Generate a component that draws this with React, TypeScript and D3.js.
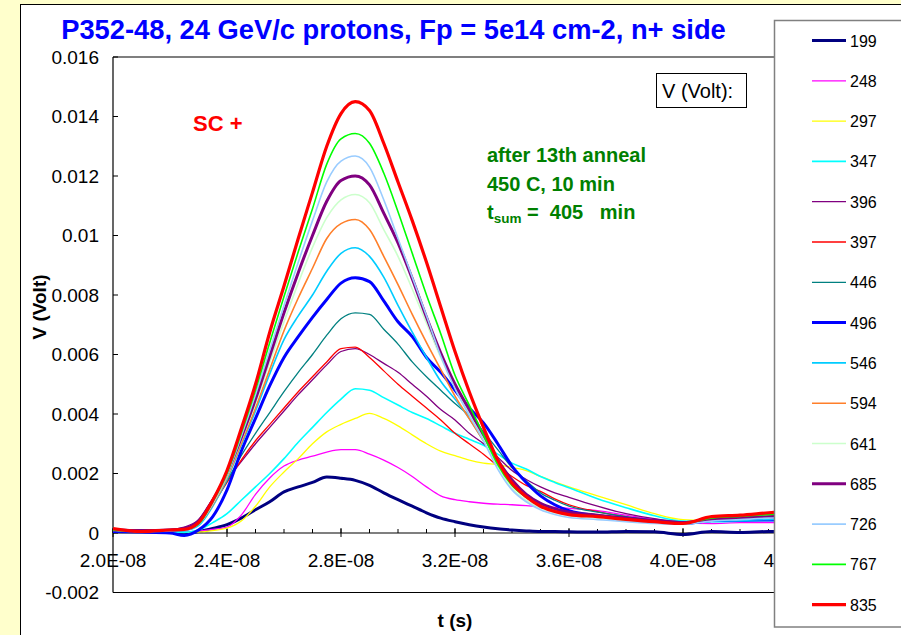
import React from "react";
import * as d3 from "d3";

// time grid in ns
const TIMES_NS = [20, 21, 22, 22.5, 23, 23.5, 24, 24.5, 25, 25.5, 26, 26.5, 27, 27.5, 28, 28.5, 29, 29.5, 30, 30.5, 31, 31.5, 32, 32.5, 33, 33.5, 34, 34.5, 35, 35.5, 36, 37, 38, 39, 40, 41, 42, 43, 44];

// values in mV
const V199 = [0.05, 0.05, 0.03, 0.0, 0.05, 0.15, 0.28, 0.5, 0.78, 1.05, 1.38, 1.55, 1.7, 1.88, 1.84, 1.77, 1.6, 1.35, 1.12, 0.9, 0.68, 0.5, 0.38, 0.28, 0.2, 0.14, 0.1, 0.07, 0.05, 0.05, 0.04, 0.03, 0.05, 0.04, -0.05, 0.05, 0.02, 0.05, 0.05];
const V248 = [0.05, 0.03, 0.03, 0.03, 0.06, 0.12, 0.2, 0.6, 1.3, 1.85, 2.25, 2.45, 2.58, 2.72, 2.8, 2.8, 2.65, 2.45, 2.2, 1.9, 1.55, 1.25, 1.12, 1.05, 1.0, 0.97, 0.95, 0.92, 0.88, 0.86, 0.83, 0.75, 0.6, 0.45, 0.35, 0.32, 0.35, 0.35, 0.35];
const V297 = [0.05, 0.03, 0.03, 0.02, 0.03, 0.08, 0.16, 0.4, 0.9, 1.55, 2.05, 2.5, 3.0, 3.4, 3.65, 3.85, 4.02, 3.85, 3.6, 3.3, 3.0, 2.75, 2.6, 2.45, 2.35, 2.3, 2.2, 2.1, 1.9, 1.72, 1.55, 1.25, 0.95, 0.65, 0.45, 0.42, 0.45, 0.48, 0.48];
const V347 = [0.05, 0.03, 0.03, 0.02, 0.1, 0.35, 0.65, 1.1, 1.55, 2.0, 2.5, 3.05, 3.55, 4.05, 4.5, 4.85, 4.8, 4.55, 4.3, 4.05, 3.85, 3.6, 3.35, 3.15, 2.95, 2.65, 2.35, 2.15, 1.9, 1.7, 1.52, 1.15, 0.85, 0.58, 0.4, 0.38, 0.4, 0.42, 0.42];
const V396 = [0.15, 0.1, 0.12, 0.2, 0.45, 1.15, 1.8, 2.4, 3.0, 3.55, 4.1, 4.65, 5.15, 5.65, 6.1, 6.2, 6.0, 5.7, 5.4, 5.0, 4.6, 4.15, 3.8, 3.35, 3.0, 2.55, 2.1, 1.8, 1.55, 1.35, 1.2, 0.9, 0.65, 0.48, 0.38, 0.45, 0.48, 0.5, 0.52];
const V397 = [0.1, 0.05, 0.08, 0.12, 0.3, 0.95, 1.7, 2.45, 3.1, 3.65, 4.2, 4.75, 5.25, 5.75, 6.2, 6.25, 5.9, 5.45, 5.0, 4.6, 4.2, 3.8, 3.35, 3.0, 2.65, 2.25, 1.9, 1.6, 1.4, 1.15, 0.95, 0.72, 0.55, 0.42, 0.35, 0.42, 0.45, 0.48, 0.5];
const V446 = [0.1, 0.05, 0.08, 0.12, 0.3, 0.95, 1.75, 2.6, 3.35, 4.05, 4.75, 5.4, 6.0, 6.65, 7.2, 7.4, 7.35, 6.85, 6.35, 5.75, 5.25, 4.8, 4.35, 3.95, 3.4, 2.8, 2.2, 1.75, 1.35, 1.1, 0.9, 0.7, 0.55, 0.42, 0.33, 0.45, 0.5, 0.55, 0.56];
const V496 = [0.05, 0.03, 0.0, -0.08, 0.1, 0.55, 1.45, 2.75, 3.85, 4.95, 5.9, 6.6, 7.25, 7.85, 8.4, 8.58, 8.45, 7.8, 7.1, 6.6, 5.9, 5.4, 4.8, 4.2, 3.7, 3.0, 2.25, 1.7, 1.25, 0.95, 0.75, 0.58, 0.5, 0.4, 0.32, 0.42, 0.44, 0.44, 0.44];
const V546 = [0.08, 0.05, 0.06, 0.08, 0.25, 0.9, 1.8, 2.95, 4.1, 5.35, 6.5, 7.3, 8.0, 8.8, 9.4, 9.59, 9.3, 8.6, 7.65, 6.75, 5.9, 5.1, 4.5, 3.85, 3.1, 2.35, 1.75, 1.3, 1.0, 0.8, 0.68, 0.55, 0.45, 0.35, 0.3, 0.4, 0.42, 0.45, 0.47];
const V594 = [0.1, 0.05, 0.1, 0.12, 0.3, 0.95, 1.85, 3.0, 4.2, 5.5, 6.8, 7.9, 8.9, 9.9, 10.4, 10.54, 10.2, 9.3, 8.35, 7.35, 6.4, 5.5, 4.6, 3.85, 3.1, 2.35, 1.67, 1.22, 0.94, 0.78, 0.68, 0.6, 0.5, 0.4, 0.32, 0.48, 0.53, 0.58, 0.6];
const V641 = [0.1, 0.05, 0.1, 0.12, 0.3, 1.0, 1.9, 3.1, 4.35, 5.75, 7.1, 8.4, 9.6, 10.6, 11.2, 11.38, 11.1, 10.2, 9.3, 8.2, 7.05, 5.9, 4.9, 4.0, 3.15, 2.25, 1.5, 1.1, 0.83, 0.68, 0.58, 0.5, 0.42, 0.35, 0.3, 0.45, 0.5, 0.56, 0.6];
const V685 = [0.1, 0.08, 0.1, 0.15, 0.4, 1.1, 2.0, 3.2, 4.5, 5.95, 7.4, 8.75, 10.0, 11.15, 11.85, 12.0, 11.7, 10.75, 9.75, 8.55, 7.25, 6.05, 5.0, 4.15, 3.3, 2.45, 1.78, 1.3, 1.0, 0.82, 0.7, 0.6, 0.5, 0.42, 0.35, 0.45, 0.5, 0.55, 0.58];
const V726 = [0.1, 0.05, 0.08, 0.1, 0.3, 1.0, 1.95, 3.25, 4.65, 6.15, 7.65, 9.1, 10.5, 11.8, 12.5, 12.67, 12.3, 11.2, 9.9, 8.6, 7.3, 5.95, 4.85, 3.95, 3.1, 2.15, 1.45, 1.05, 0.78, 0.62, 0.52, 0.45, 0.38, 0.32, 0.3, 0.4, 0.45, 0.5, 0.52];
const V767 = [0.1, 0.05, 0.1, 0.12, 0.3, 1.05, 2.0, 3.35, 4.8, 6.4, 7.95, 9.45, 10.9, 12.4, 13.25, 13.43, 13.1, 12.1, 10.8, 9.4, 8.0, 6.7, 5.3, 4.3, 3.3, 2.3, 1.6, 1.2, 0.9, 0.72, 0.62, 0.55, 0.45, 0.38, 0.33, 0.5, 0.56, 0.62, 0.66];
const V835 = [0.15, 0.05, 0.1, 0.12, 0.35, 1.1, 2.1, 3.5, 5.0, 6.75, 8.3, 9.9, 11.45, 13.0, 14.1, 14.5, 14.2, 13.1, 11.8, 10.5, 9.1, 7.6, 6.1, 4.75, 3.55, 2.45, 1.67, 1.22, 0.9, 0.72, 0.62, 0.55, 0.46, 0.38, 0.32, 0.55, 0.6, 0.68, 0.75];

const SERIES_NAMES = ["199", "248", "297", "347", "396", "397", "446", "496", "546", "594", "641", "685", "726", "767", "835"];
const SERIES_VALUES = [V199, V248, V297, V347, V396, V397, V446, V496, V546, V594, V641, V685, V726, V767, V835];
const SERIES_COLORS = ["#000080", "#FF00FF", "#FFFF00", "#00FFFF", "#800080", "#FF0000", "#008080", "#0000FF", "#00CCFF", "#FF7F2A", "#CCFFCC", "#800080", "#99CCFF", "#00FF00", "#FF0000"];
const SERIES_WIDTHS = [3, 1.3, 1.3, 1.6, 1.3, 1.3, 1.3, 3, 1.6, 1.6, 1.6, 3, 1.6, 1.6, 3.2];

const X_TICKS = [2.0e-8, 2.4e-8, 2.8e-8, 3.2e-8, 3.6e-8, 4.0e-8, 4.4e-8];
const X_TICK_LABELS = ["2.0E-08", "2.4E-08", "2.8E-08", "3.2E-08", "3.6E-08", "4.0E-08", "4.4E-08"];
const Y_TICKS = [-0.002, 0, 0.002, 0.004, 0.006, 0.008, 0.01, 0.012, 0.014, 0.016];
const Y_TICK_LABELS = ["-0.002", "0", "0.002", "0.004", "0.006", "0.008", "0.01", "0.012", "0.014", "0.016"];

const W = 901;
const H = 635;
const PL = 113, PT = 57, PR = 774, PB = 592.5;

export default function App() {
  const x = d3.scaleLinear().domain([2.0e-8, 4.4e-8]).range([PL, 797]);
  const y = d3.scaleLinear().domain([-0.002, 0.016]).range([PB, PT]);
  const y0 = y(0);

  const line = d3
    .line<[number, number]>()
    .x((d) => x(d[0]))
    .y((d) => y(d[1]))
    .curve(d3.curveMonotoneX);

  const minorTicks = d3.range(0, 25).map((i) => 2.0e-8 + i * 0.1e-8);

  const font = "Arial, 'Liberation Sans', sans-serif";

  return (
    <div style={{ position: "absolute", left: 0, top: 0 }}>
      <svg width={W} height={H} style={{ display: "block" }} fontFamily={font}>
        <defs>
          <clipPath id="plotClip">
            <rect x={PL} y={PT} width={PR - PL} height={PB - PT} />
          </clipPath>
        </defs>
        <rect x={0} y={0} width={W} height={H} fill="#FFFFCC" />
        <rect x={20.5} y={4.5} width={W} height={H} fill="#FFFFFF" stroke="#000" strokeWidth={1} />

        {/* title */}
        <text x={393.5} y={39} textAnchor="middle" fontSize={27.3} fontWeight="bold" fill="#0000FF">
          P352-48, 24 GeV/c protons, Fp = 5e14 cm-2, n+ side
        </text>

        {/* plot frame */}
        <line x1={PL} y1={PT} x2={PR} y2={PT} stroke="#000" strokeWidth={1.2} />
        <line x1={PL} y1={PT} x2={PL} y2={PB} stroke="#000" strokeWidth={1.2} />
        <line x1={PL} y1={PB} x2={PR} y2={PB} stroke="#000" strokeWidth={1.2} />

        {/* y ticks */}
        {Y_TICKS.map((t, i) => (
          <g key={"yt" + i}>
            <line x1={PL} x2={PL + 5} y1={y(t)} y2={y(t)} stroke="#000" />
            <text x={99} y={y(t) + 6.5} textAnchor="end" fontSize={19} fill="#000">
              {Y_TICK_LABELS[i]}
            </text>
          </g>
        ))}

        {/* x axis at zero */}
        <line x1={PL} x2={PR} y1={y0} y2={y0} stroke="#000" strokeWidth={1.2} />
        {minorTicks.map((t, i) =>
          x(t) < PR ? <line key={"mt" + i} x1={x(t)} x2={x(t)} y1={y0 - 4} y2={y0} stroke="#000" /> : null
        )}
        {X_TICKS.map((t, i) => (
          <g key={"xt" + i}>
            {x(t) < PR ? <line x1={x(t)} x2={x(t)} y1={y0 - 5} y2={y0 + 4} stroke="#000" /> : null}
            <text x={x(t)} y={567} textAnchor="middle" fontSize={19} fill="#000">
              {X_TICK_LABELS[i]}
            </text>
          </g>
        ))}

        {/* series */}
        <g clipPath="url(#plotClip)">
          {SERIES_VALUES.map((vals, si) => {
            const pts: [number, number][] = TIMES_NS.map((tn, i) => [tn * 1e-9, vals[i] * 1e-3]);
            return (
              <path
                key={"s" + si}
                d={line(pts) || ""}
                fill="none"
                stroke={SERIES_COLORS[si]}
                strokeWidth={SERIES_WIDTHS[si]}
                strokeLinejoin="round"
              />
            );
          })}
        </g>

        {/* axis titles */}
        <text
          transform={`translate(46, 307) rotate(-90)`}
          textAnchor="middle"
          fontSize={19}
          fontWeight="bold"
          fill="#000"
        >
          V (Volt)
        </text>
        <text x={455} y={627} textAnchor="middle" fontSize={19} fontWeight="bold" fill="#000">
          t (s)
        </text>

        {/* annotations */}
        <text x={193} y={131} fontSize={22} fontWeight="bold" fill="#FF0000">
          SC +
        </text>
        <g fontSize={20} fontWeight="bold" fill="#008000">
          <text x={487} y={162}>after 13th anneal</text>
          <text x={487} y={190.5}>450 C, 10 min</text>
          <text x={487} y={218.5}>
            t<tspan fontSize={13.5} dy={4}>sum</tspan>
            <tspan dy={-4} xmlSpace="preserve"> =  405   min</tspan>
          </text>
        </g>

        <rect x={656.5} y={73.5} width={90} height={34} fill="#FFFFFF" stroke="#000" strokeWidth={1} />
        <text x={662} y={98} fontSize={20} fill="#000">
          V (Volt):
        </text>

        {/* legend */}
        <rect x={774.5} y={20.5} width={140} height={606.5} fill="#FFFFFF" stroke="#808080" strokeWidth={1.5} />
        {SERIES_NAMES.map((name, i) => {
          const ly = 40.5 + i * 40.3;
          return (
            <g key={"lg" + i}>
              <line x1={812} x2={846} y1={ly} y2={ly} stroke={SERIES_COLORS[i]} strokeWidth={SERIES_WIDTHS[i]} />
              <text x={850} y={ly + 6} fontSize={16} fill="#000">
                {name}
              </text>
            </g>
          );
        })}
      </svg>
    </div>
  );
}
